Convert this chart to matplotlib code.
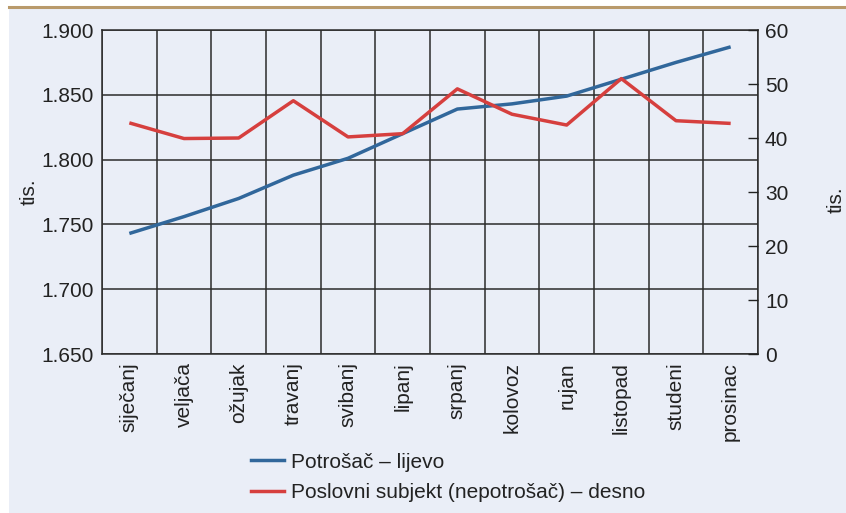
import numpy as np
import matplotlib.pyplot as plt
from matplotlib.lines import Line2D
from matplotlib.patches import Rectangle

plt.rcParams['font.family'] = ['Liberation Sans', 'DejaVu Sans']

months = ['siječanj', 'veljača', 'ožujak', 'travanj', 'svibanj', 'lipanj',
          'srpanj', 'kolovoz', 'rujan', 'listopad', 'studeni', 'prosinac']
# potrošač, lijeva os (tis.)
potrosac = [1743, 1756, 1770, 1788, 1801, 1820, 1839, 1843, 1849, 1862, 1875, 1887]
# poslovni subjekt (nepotrošač), desna os (tis.)
poslovni = [42.8, 39.9, 40.0, 46.9, 40.2, 40.8, 49.1, 44.4, 42.4, 51.0, 43.2, 42.7]
left_ticks = [1650, 1700, 1750, 1800, 1850, 1900]
right_ticks = [0, 10, 20, 30, 40, 50, 60]

bg = '#eaeef7'
blue = '#31679b'
red = '#d63f3e'
grid_c = '#2b2b2b'
txt_c = '#222222'
fs = 15

fig = plt.figure(figsize=(8.46, 5.13), dpi=100)
fig.patches.append(Rectangle((9/846, 0), 1, 1 - 8/513, transform=fig.transFigure,
                             facecolor=bg, edgecolor='none', zorder=-10))
fig.add_artist(Line2D([9/846, 1], [1 - 7/513, 1 - 7/513], color='#b99a6b', lw=2.2))

ax = fig.add_axes([102/846, 1 - 354/513, 656/846, 324/513])
ax.set_facecolor(bg)
x = np.arange(len(months))

ax.plot(x, potrosac, color=blue, lw=2.5, solid_capstyle='butt', zorder=3)
ax.set_xlim(-0.5, len(months) - 0.5)
ax.set_ylim(1650, 1900)
ax.set_yticks(left_ticks)
ax.set_yticklabels([f'{v // 1000}.{v % 1000:03d}' for v in left_ticks], fontsize=fs)
ax.tick_params(axis='y', length=0, pad=6, colors=txt_c)
ax.set_xticks(x)
ax.set_xticklabels(months, rotation=90, fontsize=fs, color=txt_c)
ax.tick_params(axis='x', length=0, pad=6)
ax.set_xticks(np.arange(-0.5, len(months)), minor=True)
ax.tick_params(axis='x', which='minor', length=0)
ax.grid(True, axis='y', which='major', color=grid_c, lw=1.1)
ax.grid(True, axis='x', which='minor', color=grid_c, lw=1.1)
for s in ax.spines.values():
    s.set_color(grid_c)
    s.set_linewidth(1.1)
ax.set_ylabel('tis.', fontsize=fs, labelpad=2, color=txt_c)

ax2 = ax.twinx()
ax2.plot(x, poslovni, color=red, lw=2.5, solid_capstyle='butt', zorder=3)
ax2.set_ylim(0, 60)
ax2.set_yticks(right_ticks)
ax2.set_yticklabels([str(v) for v in right_ticks], fontsize=fs)
ax2.tick_params(axis='y', direction='in', length=7, width=1, pad=5,
                colors=txt_c)
for s in ax2.spines.values():
    s.set_visible(False)

fig.text(836/846, 1 - 200/513, 'tis.', rotation=90, fontsize=fs,
         ha='center', va='center', color=txt_c)

handles = [Line2D([], [], color=blue, lw=2.5), Line2D([], [], color=red, lw=2.5)]
fig.legend(handles, ['Potrošač – lijevo', 'Poslovni subjekt (nepotrošač) – desno'],
           loc='upper left', bbox_to_anchor=(232/846, 1 - 434/513), frameon=False,
           fontsize=fs, handlelength=1.6, handletextpad=0.35, labelspacing=0.55,
           labelcolor=txt_c)

fig.savefig('out.png', dpi=100, facecolor='white')
